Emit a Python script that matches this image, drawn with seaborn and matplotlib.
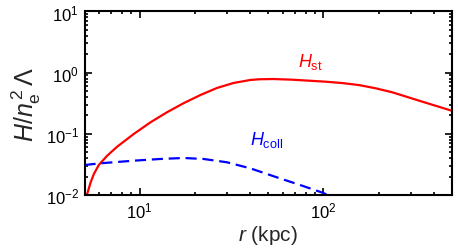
import matplotlib
matplotlib.use("Agg")
import matplotlib.pyplot as plt
import numpy as np
import pandas as pd
import seaborn as sns
from matplotlib.ticker import LogLocator, NullFormatter

# values (r in kpc, H / n_e^2 Lambda)
r_st = [5.1, 5.17, 5.40, 5.62, 5.98, 6.64, 7.53, 9.27, 11.43, 14.06, 17.3, 21.4, 26.3,
        32.4, 40.0, 44.9, 53.5, 68.1, 103.5, 127.0, 157.0, 193.0, 238.0, 333.0, 500.0]
h_st = [0.0085, 0.0104, 0.0161, 0.0220, 0.0309, 0.0438, 0.0616, 0.0993, 0.154, 0.225,
        0.316, 0.431, 0.561, 0.678, 0.759, 0.780, 0.787, 0.767, 0.711, 0.676, 0.626,
        0.555, 0.477, 0.348, 0.239]

r_coll = [5.0, 6.11, 9.27, 12.9, 17.3, 22.3, 29.8, 40.0, 55.7, 74.6, 100.0, 108.0]
h_coll = [0.0309, 0.0330, 0.0364, 0.0388, 0.0403, 0.0388, 0.0343, 0.0273, 0.0195,
          0.0146, 0.0108, 0.0097]

df = pd.DataFrame({
    "r": r_st + r_coll,
    "H": h_st + h_coll,
    "term": ["st"] * len(r_st) + ["coll"] * len(r_coll),
})

sns.set_style("ticks")
plt.rcParams["font.family"] = ["Liberation Sans", "DejaVu Sans"]
plt.rcParams["mathtext.fontset"] = "custom"
plt.rcParams["mathtext.rm"] = "Liberation Sans"
plt.rcParams["mathtext.it"] = "Liberation Sans:italic"
plt.rcParams["mathtext.bf"] = "Liberation Sans:bold"

fig = plt.figure(figsize=(4.58, 2.53), dpi=100)
ax = fig.add_axes([0.1845, 0.2253, 0.8015, 0.7253])

sns.lineplot(data=df, x="r", y="H", hue="term", style="term",
             palette={"st": "#ff0000", "coll": "#0000ff"},
             dashes={"st": "", "coll": (5, 2.6)},
             linewidth=1.6, sort=False, legend=False, ax=ax)

ax.set_xscale("log")
ax.set_yscale("log")
ax.set_xlim(5, 500)
ax.set_ylim(1e-2, 10)
ax.yaxis.set_major_locator(LogLocator(base=10, numticks=10))
ax.yaxis.set_minor_locator(LogLocator(base=10, subs=np.arange(2, 10), numticks=10))
ax.xaxis.set_minor_locator(LogLocator(base=10, subs=np.arange(2, 10), numticks=10))
ax.xaxis.set_minor_formatter(NullFormatter())
ax.yaxis.set_minor_formatter(NullFormatter())

ax.tick_params(which="both", direction="in", top=True, right=True, width=1.2, colors="black")
ax.tick_params(which="major", length=5, labelsize=12, pad=4)
ax.tick_params(which="minor", length=2.5)
for s in ax.spines.values():
    s.set_linewidth(1.5)
    s.set_color("black")

ax.set_xlabel(r"$r$ (kpc)", fontsize=15, labelpad=2)
ax.set_ylabel(r"$H/n_{\rm e}^{\,2}\,\Lambda$", fontsize=18, labelpad=2)

ax.text(85, 1.55, r"$H_{\rm st}$", color="#ff0000", fontsize=13, ha="center", va="center")
ax.text(49, 0.082, r"$H_{\rm coll}$", color="#0000ff", fontsize=13, ha="center", va="center")

fig.savefig("out.png", dpi=100)
